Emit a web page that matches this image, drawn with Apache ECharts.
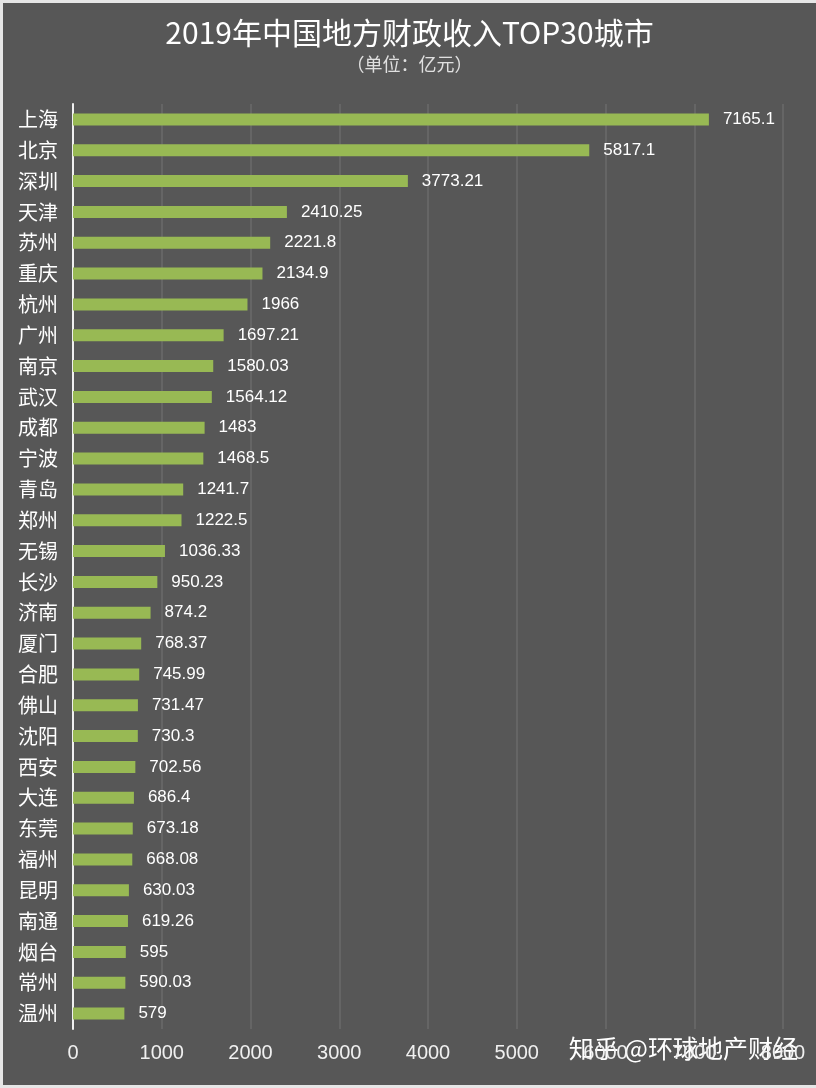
<!DOCTYPE html>
<html><head><meta charset="utf-8">
<script src="https://cdn.jsdelivr.net/npm/echarts@6/dist/echarts.min.js"></script>
<style>
html,body{margin:0;padding:0;background:#e6e6e6;}
#c{position:absolute;left:3px;top:3px;width:813px;height:1082px;background:#575757;}
</style></head>
<body><div id="c"></div>
<script>
const categories = ['上海','北京','深圳','天津','苏州','重庆','杭州','广州','南京','武汉','成都','宁波','青岛','郑州','无锡','长沙','济南','厦门','合肥','佛山','沈阳','西安','大连','东莞','福州','昆明','南通','烟台','常州','温州'];
const values = [7165.1,5817.1,3773.21,2410.25,2221.8,2134.9,1966,1697.21,1580.03,1564.12,1483,1468.5,1241.7,1222.5,1036.33,950.23,874.2,768.37,745.99,731.47,730.3,702.56,686.4,673.18,668.08,630.03,619.26,595,590.03,579];
const titleText = '2019年中国地方财政收入TOP30城市';
const subtitleText = '（单位：亿元）';
const watermark = '知乎 @环球地产财经';

const chart = echarts.init(document.getElementById('c'));
const font = '"Noto Sans CJK SC","Noto Sans",sans-serif';
const numFont = '"Liberation Sans",Arial,sans-serif';
chart.setOption({
  backgroundColor: '#575757',
  title: {
    text: titleText, subtext: subtitleText, left: 'center', top: 10, itemGap: 7,
    textStyle: {color: '#ffffff', fontSize: 30, fontWeight: 'normal', fontFamily: font},
    subtextStyle: {color: '#e0e0e0', fontSize: 18, fontFamily: font}
  },
  grid: {left: 70, right: 33, top: 101, bottom: 56, containLabel: false},
  xAxis: {
    type: 'value', min: 0, max: 8000, interval: 1000,
    axisLine: {show: false}, axisTick: {show: false},
    splitLine: {show: true, lineStyle: {color: '#6a6a6a', width: 1.5}},
    axisLabel: {color: '#f0f0f0', fontSize: 20, margin: 14, fontFamily: numFont, formatter: v => String(v)}
  },
  yAxis: {
    type: 'category', data: categories, inverse: true,
    axisLine: {show: true, lineStyle: {color: '#f0f0f0', width: 2}},
    axisTick: {show: false},
    axisLabel: {color: '#ffffff', fontSize: 20, margin: 15, fontFamily: font}
  },
  series: [{
    type: 'bar', data: values, barWidth: 12,
    itemStyle: {color: '#98b954'},
    label: {show: true, position: 'right', distance: 14, color: '#ffffff', fontSize: 17, fontFamily: numFont}
  }],
  graphic: [{
    type: 'text', right: 18, top: 1033,
    style: {text: watermark, fill: '#ffffff', font: '25px "Noto Sans CJK SC",sans-serif'}
  }]
});
</script></body></html>
